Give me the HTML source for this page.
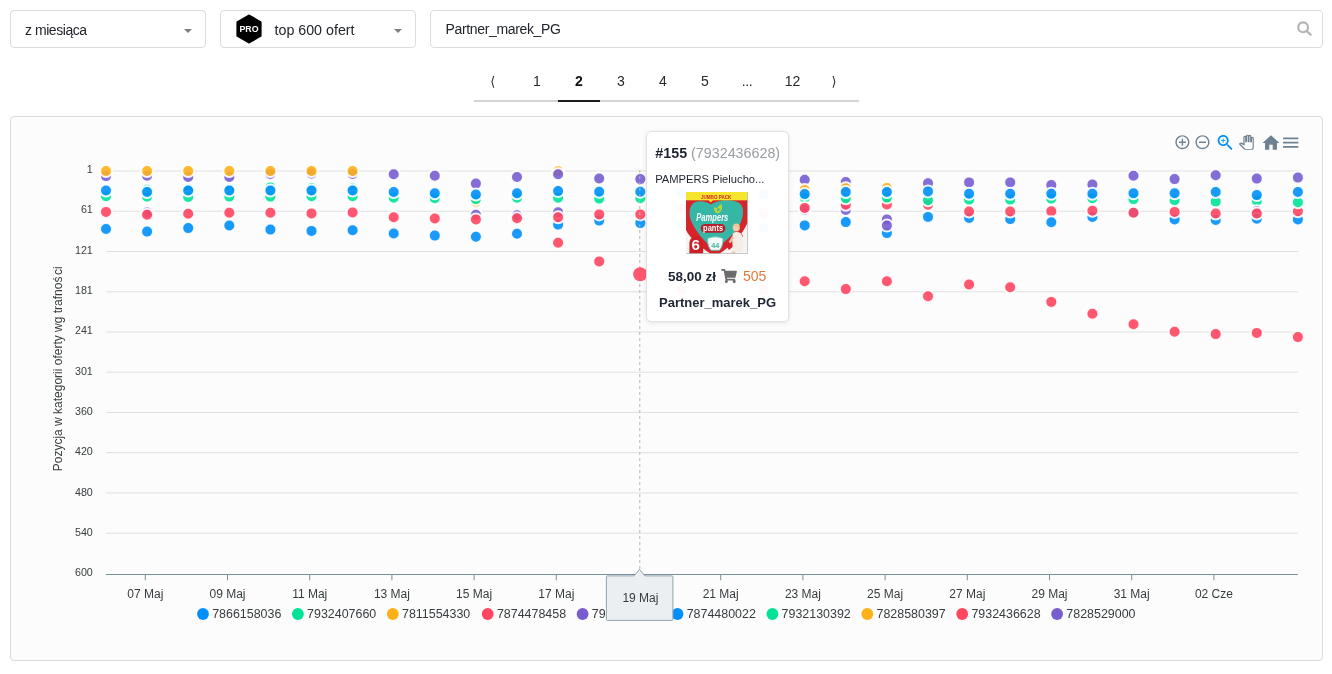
<!DOCTYPE html>
<html lang="pl">
<head>
<meta charset="utf-8">
<title>Partner_marek_PG</title>
<style>
html,body{margin:0;padding:0;background:#fff}
body{width:1332px;height:674px;position:relative;overflow:hidden;will-change:transform;font-family:"Liberation Sans",Arial,sans-serif;color:#1f2533}
.abs{position:absolute}
.box{position:absolute;top:10px;height:38px;box-sizing:border-box;border:1px solid #dcdcdd;border-radius:4px;background:#fff}
.box span{position:absolute;white-space:nowrap;line-height:1;color:#22252b}
.caret{position:absolute;top:17.5px;width:0;height:0;border-left:4px solid transparent;border-right:4px solid transparent;border-top:4px solid #7d7d7d}
.pg{position:absolute;top:73px;height:16px;line-height:16px;font-size:14px;color:#26282c;text-align:center;white-space:nowrap}
#panel{position:absolute;left:10px;top:116px;width:1313px;height:545px;box-sizing:border-box;border:1px solid #d9dadd;border-radius:4px;background:#fcfcfc}
#tip{position:absolute;left:646px;top:131px;width:143px;height:191px;box-sizing:border-box;border:1px solid #e2e2e3;border-radius:5px;background:rgba(255,255,255,0.965);box-shadow:0 1px 4px rgba(0,0,0,0.10)}
#tip span{position:absolute;white-space:nowrap;line-height:1}
</style>
</head>
<body>
<div class="box" style="left:10px;width:196px"><span id="t1" style="left:14px;top:12.150px;font-size:14px;letter-spacing:-0.45px">z miesiąca</span><i class="caret" style="left:173px"></i></div>
<div class="box" style="left:220px;width:196px">
<svg class="abs" style="left:14px;top:3px" width="28" height="30" viewBox="0 0 28 30"><path d="M14 1.8 L25.3 8.3 V21.7 L14 28.2 L2.7 21.7 V8.3 Z" fill="#000" stroke="#000" stroke-width="2.6" stroke-linejoin="round"/><text x="14" y="18.3" font-family="Liberation Sans, Arial, sans-serif" font-size="9" font-weight="bold" fill="#fff" text-anchor="middle" textLength="19.2" lengthAdjust="spacingAndGlyphs">PRO</text></svg>
<span id="t2" style="left:53.5px;top:11.9px;font-size:14.250px">top 600 ofert</span><i class="caret" style="left:173px"></i></div>
<div class="box" style="left:430px;width:893px"><span id="t3" style="left:14.5px;top:10.950px;font-size:14px;letter-spacing:-0.35px">Partner_marek_PG</span>
<svg class="abs" style="left:864px;top:9px" width="20" height="20" viewBox="0 0 20 20"><circle cx="8.1" cy="7.3" r="4.9" fill="none" stroke="#b3b3b3" stroke-width="2.1"/><line x1="11.7" y1="11.1" x2="15.7" y2="14.8" stroke="#b3b3b3" stroke-width="2.2" stroke-linecap="round"/></svg>
</div>

<div class="abs" style="left:474px;top:100px;width:385px;height:2px;background:#d4d4d5"></div>
<div class="abs" style="left:558px;top:100px;width:42px;height:2px;background:#1b1c1d"></div>
<div class="pg" style="left:474px;width:42px;font-family:'DejaVu Sans',sans-serif;font-size:13px"><span style="position:relative;left:-2.3px;top:0.8px">⟨</span></div>
<div class="pg" style="left:516px;width:42px">1</div>
<div class="pg" style="left:558px;width:42px;font-weight:bold;color:#111">2</div>
<div class="pg" style="left:600px;width:42px">3</div>
<div class="pg" style="left:642px;width:42px">4</div>
<div class="pg" style="left:684px;width:42px">5</div>
<div class="pg" style="left:726px;width:42px;letter-spacing:-0.4px">...</div>
<div class="pg" style="left:768px;width:49px">12</div>
<div class="pg" style="left:817px;width:42px;font-family:'DejaVu Sans',sans-serif;font-size:13px"><span style="position:relative;left:-3.9px;top:0.8px">⟩</span></div>

<div id="panel"></div>
<svg id="chart" width="1332" height="674" viewBox="0 0 1332 674" style="position:absolute;left:0;top:0" font-family="Liberation Sans, Arial, sans-serif">
<g stroke="#e0e0e0" stroke-width="1" shape-rendering="auto">
<line x1="106" y1="171.00" x2="1298" y2="171.00"/>
<line x1="106" y1="211.24" x2="1298" y2="211.24"/>
<line x1="106" y1="251.48" x2="1298" y2="251.48"/>
<line x1="106" y1="291.72" x2="1298" y2="291.72"/>
<line x1="106" y1="331.96" x2="1298" y2="331.96"/>
<line x1="106" y1="372.20" x2="1298" y2="372.20"/>
<line x1="106" y1="412.44" x2="1298" y2="412.44"/>
<line x1="106" y1="452.68" x2="1298" y2="452.68"/>
<line x1="106" y1="492.92" x2="1298" y2="492.92"/>
<line x1="106" y1="533.16" x2="1298" y2="533.16"/>
</g>
<line x1="106" y1="574.5" x2="1298" y2="574.5" stroke="#78909C" stroke-width="1"/>
<g stroke="#78909C" stroke-width="1">
<line x1="145.3" y1="574.5" x2="145.3" y2="580.3"/>
<line x1="227.5" y1="574.5" x2="227.5" y2="580.3"/>
<line x1="309.7" y1="574.5" x2="309.7" y2="580.3"/>
<line x1="391.9" y1="574.5" x2="391.9" y2="580.3"/>
<line x1="474.1" y1="574.5" x2="474.1" y2="580.3"/>
<line x1="556.3" y1="574.5" x2="556.3" y2="580.3"/>
<line x1="638.5" y1="574.5" x2="638.5" y2="580.3"/>
<line x1="720.7" y1="574.5" x2="720.7" y2="580.3"/>
<line x1="802.9" y1="574.5" x2="802.9" y2="580.3"/>
<line x1="885.1" y1="574.5" x2="885.1" y2="580.3"/>
<line x1="967.3" y1="574.5" x2="967.3" y2="580.3"/>
<line x1="1049.5" y1="574.5" x2="1049.5" y2="580.3"/>
<line x1="1131.7" y1="574.5" x2="1131.7" y2="580.3"/>
<line x1="1213.9" y1="574.5" x2="1213.9" y2="580.3"/>
</g>
<g font-size="10.7" fill="#373d3f" text-anchor="end">
<text x="92.8" y="173">1</text>
<text x="92.8" y="213">61</text>
<text x="92.8" y="254">121</text>
<text x="92.8" y="294">181</text>
<text x="92.8" y="334">241</text>
<text x="92.8" y="375">301</text>
<text x="92.8" y="415">360</text>
<text x="92.8" y="455">420</text>
<text x="92.8" y="496">480</text>
<text x="92.8" y="536">540</text>
<text x="92.8" y="576">600</text>
</g>
<g font-size="12" fill="#373d3f" text-anchor="middle">
<text x="145.3" y="598">07 Maj</text>
<text x="227.5" y="598">09 Maj</text>
<text x="309.7" y="598">11 Maj</text>
<text x="391.9" y="598">13 Maj</text>
<text x="474.1" y="598">15 Maj</text>
<text x="556.3" y="598">17 Maj</text>
<text x="638.5" y="598">19 Maj</text>
<text x="720.7" y="598">21 Maj</text>
<text x="802.9" y="598">23 Maj</text>
<text x="885.1" y="598">25 Maj</text>
<text x="967.3" y="598">27 Maj</text>
<text x="1049.5" y="598">29 Maj</text>
<text x="1131.7" y="598">31 Maj</text>
<text x="1213.9" y="598">02 Cze</text>
</g>
<text font-size="12" fill="#373d3f" text-anchor="middle" transform="translate(62.3 368.8) rotate(-90)">Pozycja w kategorii oferty wg trafnoś<tspan dx="1.6">ci</tspan></text>
<g stroke="#fff" stroke-width="2" fill-opacity="0.9" stroke-opacity="0.9">
<circle cx="106.0" cy="176.1" r="6" fill="#775DD0"/>
<circle cx="106.0" cy="171.0" r="6" fill="#FEB019"/>
<circle cx="106.0" cy="196.3" r="6" fill="#00E396"/>
<circle cx="106.0" cy="190.5" r="6" fill="#008FFB"/>
<circle cx="106.0" cy="211.9" r="6" fill="#FF4560"/>
<circle cx="106.0" cy="229.0" r="6" fill="#008FFB"/>
<circle cx="147.1" cy="175.8" r="6" fill="#775DD0"/>
<circle cx="147.1" cy="171.0" r="6" fill="#FEB019"/>
<circle cx="147.1" cy="189.8" r="6" fill="#00E396"/>
<circle cx="147.1" cy="196.6" r="6" fill="#00E396"/>
<circle cx="147.1" cy="192.0" r="6" fill="#008FFB"/>
<circle cx="147.1" cy="212.6" r="6" fill="#775DD0"/>
<circle cx="147.1" cy="214.7" r="6" fill="#FF4560"/>
<circle cx="147.1" cy="231.6" r="6" fill="#008FFB"/>
<circle cx="188.2" cy="177.0" r="6" fill="#775DD0"/>
<circle cx="188.2" cy="171.0" r="6" fill="#FEB019"/>
<circle cx="188.2" cy="188.9" r="6" fill="#00E396"/>
<circle cx="188.2" cy="196.9" r="6" fill="#00E396"/>
<circle cx="188.2" cy="190.5" r="6" fill="#008FFB"/>
<circle cx="188.2" cy="213.8" r="6" fill="#FF4560"/>
<circle cx="188.2" cy="228.1" r="6" fill="#008FFB"/>
<circle cx="229.3" cy="177.0" r="6" fill="#775DD0"/>
<circle cx="229.3" cy="171.0" r="6" fill="#FEB019"/>
<circle cx="229.3" cy="188.9" r="6" fill="#00E396"/>
<circle cx="229.3" cy="196.6" r="6" fill="#00E396"/>
<circle cx="229.3" cy="190.5" r="6" fill="#008FFB"/>
<circle cx="229.3" cy="212.8" r="6" fill="#FF4560"/>
<circle cx="229.3" cy="225.5" r="6" fill="#008FFB"/>
<circle cx="270.4" cy="173.9" r="6" fill="#775DD0"/>
<circle cx="270.4" cy="171.0" r="6" fill="#FEB019"/>
<circle cx="270.4" cy="187.4" r="6" fill="#00E396"/>
<circle cx="270.4" cy="196.6" r="6" fill="#00E396"/>
<circle cx="270.4" cy="190.5" r="6" fill="#008FFB"/>
<circle cx="270.4" cy="212.8" r="6" fill="#FF4560"/>
<circle cx="270.4" cy="229.6" r="6" fill="#008FFB"/>
<circle cx="311.5" cy="173.6" r="6" fill="#775DD0"/>
<circle cx="311.5" cy="171.0" r="6" fill="#FEB019"/>
<circle cx="311.5" cy="188.2" r="6" fill="#00E396"/>
<circle cx="311.5" cy="196.3" r="6" fill="#00E396"/>
<circle cx="311.5" cy="190.5" r="6" fill="#008FFB"/>
<circle cx="311.5" cy="213.4" r="6" fill="#FF4560"/>
<circle cx="311.5" cy="230.9" r="6" fill="#008FFB"/>
<circle cx="352.6" cy="173.9" r="6" fill="#775DD0"/>
<circle cx="352.6" cy="171.0" r="6" fill="#FEB019"/>
<circle cx="352.6" cy="188.6" r="6" fill="#00E396"/>
<circle cx="352.6" cy="196.3" r="6" fill="#00E396"/>
<circle cx="352.6" cy="190.5" r="6" fill="#008FFB"/>
<circle cx="352.6" cy="212.5" r="6" fill="#FF4560"/>
<circle cx="352.6" cy="230.2" r="6" fill="#008FFB"/>
<circle cx="393.7" cy="174.3" r="6" fill="#775DD0"/>
<circle cx="393.7" cy="197.8" r="6" fill="#00E396"/>
<circle cx="393.7" cy="192.0" r="6" fill="#008FFB"/>
<circle cx="393.7" cy="217.3" r="6" fill="#FF4560"/>
<circle cx="393.7" cy="233.5" r="6" fill="#008FFB"/>
<circle cx="434.8" cy="175.8" r="6" fill="#775DD0"/>
<circle cx="434.8" cy="198.2" r="6" fill="#00E396"/>
<circle cx="434.8" cy="193.2" r="6" fill="#008FFB"/>
<circle cx="434.8" cy="218.5" r="6" fill="#FF4560"/>
<circle cx="434.8" cy="235.6" r="6" fill="#008FFB"/>
<circle cx="475.9" cy="183.6" r="6" fill="#775DD0"/>
<circle cx="475.9" cy="201.6" r="6" fill="#FEB019"/>
<circle cx="475.9" cy="199.1" r="6" fill="#00E396"/>
<circle cx="475.9" cy="194.5" r="6" fill="#008FFB"/>
<circle cx="475.9" cy="214.8" r="6" fill="#775DD0"/>
<circle cx="475.9" cy="219.4" r="6" fill="#FF4560"/>
<circle cx="475.9" cy="236.8" r="6" fill="#008FFB"/>
<circle cx="517.0" cy="177.0" r="6" fill="#775DD0"/>
<circle cx="517.0" cy="197.8" r="6" fill="#00E396"/>
<circle cx="517.0" cy="193.2" r="6" fill="#008FFB"/>
<circle cx="517.0" cy="215.3" r="6" fill="#775DD0"/>
<circle cx="517.0" cy="218.2" r="6" fill="#FF4560"/>
<circle cx="517.0" cy="233.7" r="6" fill="#008FFB"/>
<circle cx="558.1" cy="171.2" r="6" fill="#FEB019"/>
<circle cx="558.1" cy="174.3" r="6" fill="#775DD0"/>
<circle cx="558.1" cy="197.8" r="6" fill="#00E396"/>
<circle cx="558.1" cy="191.1" r="6" fill="#008FFB"/>
<circle cx="558.1" cy="212.3" r="6" fill="#775DD0"/>
<circle cx="558.1" cy="224.6" r="6" fill="#008FFB"/>
<circle cx="558.1" cy="217.3" r="6" fill="#FF4560"/>
<circle cx="558.1" cy="242.8" r="6" fill="#FF4560"/>
<circle cx="599.2" cy="178.5" r="6" fill="#775DD0"/>
<circle cx="599.2" cy="198.6" r="6" fill="#00E396"/>
<circle cx="599.2" cy="191.7" r="6" fill="#008FFB"/>
<circle cx="599.2" cy="220.6" r="6" fill="#008FFB"/>
<circle cx="599.2" cy="214.4" r="6" fill="#FF4560"/>
<circle cx="599.2" cy="261.4" r="6" fill="#FF4560"/>
<circle cx="640.3" cy="179.1" r="6" fill="#775DD0"/>
<circle cx="640.3" cy="198.2" r="6" fill="#00E396"/>
<circle cx="640.3" cy="191.7" r="6" fill="#008FFB"/>
<circle cx="640.3" cy="223.1" r="6" fill="#008FFB"/>
<circle cx="640.3" cy="214.4" r="6" fill="#FF4560"/>
<circle cx="681.4" cy="193.6" r="6" fill="#008FFB"/>
<circle cx="681.4" cy="223.2" r="6" fill="#008FFB"/>
<circle cx="681.4" cy="208.6" r="6" fill="#FF4560"/>
<circle cx="681.4" cy="290.2" r="6" fill="#FF4560"/>
<circle cx="722.5" cy="199.2" r="6" fill="#00E396"/>
<circle cx="722.5" cy="196.2" r="6" fill="#008FFB"/>
<circle cx="722.5" cy="210.2" r="6" fill="#FF4560"/>
<circle cx="722.5" cy="224.2" r="6" fill="#008FFB"/>
<circle cx="722.5" cy="279.2" r="6" fill="#FF4560"/>
<circle cx="763.6" cy="194.6" r="6" fill="#008FFB"/>
<circle cx="763.6" cy="213.1" r="6" fill="#FF4560"/>
<circle cx="763.6" cy="227.8" r="6" fill="#008FFB"/>
<circle cx="763.6" cy="290.2" r="6" fill="#FF4560"/>
<circle cx="804.7" cy="179.8" r="6" fill="#775DD0"/>
<circle cx="804.7" cy="189.9" r="6" fill="#FEB019"/>
<circle cx="804.7" cy="197.8" r="6" fill="#00E396"/>
<circle cx="804.7" cy="194.1" r="6" fill="#008FFB"/>
<circle cx="804.7" cy="210.0" r="6" fill="#775DD0"/>
<circle cx="804.7" cy="207.9" r="6" fill="#FF4560"/>
<circle cx="804.7" cy="225.4" r="6" fill="#008FFB"/>
<circle cx="804.7" cy="281.2" r="6" fill="#FF4560"/>
<circle cx="845.8" cy="182.0" r="6" fill="#775DD0"/>
<circle cx="845.8" cy="188.3" r="6" fill="#FEB019"/>
<circle cx="845.8" cy="210.0" r="6" fill="#775DD0"/>
<circle cx="845.8" cy="204.8" r="6" fill="#FF4560"/>
<circle cx="845.8" cy="198.2" r="6" fill="#00E396"/>
<circle cx="845.8" cy="192.0" r="6" fill="#008FFB"/>
<circle cx="845.8" cy="222.1" r="6" fill="#008FFB"/>
<circle cx="845.8" cy="289.1" r="6" fill="#FF4560"/>
<circle cx="886.9" cy="188.0" r="6" fill="#FEB019"/>
<circle cx="886.9" cy="204.4" r="6" fill="#FF4560"/>
<circle cx="886.9" cy="197.6" r="6" fill="#00E396"/>
<circle cx="886.9" cy="192.0" r="6" fill="#008FFB"/>
<circle cx="886.9" cy="219.4" r="6" fill="#775DD0"/>
<circle cx="886.9" cy="233.1" r="6" fill="#008FFB"/>
<circle cx="886.9" cy="225.6" r="6" fill="#775DD0"/>
<circle cx="886.9" cy="281.2" r="6" fill="#FF4560"/>
<circle cx="928.0" cy="183.3" r="6" fill="#775DD0"/>
<circle cx="928.0" cy="204.8" r="6" fill="#FF4560"/>
<circle cx="928.0" cy="200.3" r="6" fill="#00E396"/>
<circle cx="928.0" cy="191.4" r="6" fill="#008FFB"/>
<circle cx="928.0" cy="216.9" r="6" fill="#008FFB"/>
<circle cx="928.0" cy="296.2" r="6" fill="#FF4560"/>
<circle cx="969.1" cy="182.4" r="6" fill="#775DD0"/>
<circle cx="969.1" cy="199.8" r="6" fill="#00E396"/>
<circle cx="969.1" cy="193.8" r="6" fill="#008FFB"/>
<circle cx="969.1" cy="217.9" r="6" fill="#008FFB"/>
<circle cx="969.1" cy="211.5" r="6" fill="#FF4560"/>
<circle cx="969.1" cy="284.5" r="6" fill="#FF4560"/>
<circle cx="1010.2" cy="182.4" r="6" fill="#775DD0"/>
<circle cx="1010.2" cy="199.8" r="6" fill="#00E396"/>
<circle cx="1010.2" cy="193.8" r="6" fill="#008FFB"/>
<circle cx="1010.2" cy="219.1" r="6" fill="#008FFB"/>
<circle cx="1010.2" cy="211.5" r="6" fill="#FF4560"/>
<circle cx="1010.2" cy="287.2" r="6" fill="#FF4560"/>
<circle cx="1051.3" cy="185.1" r="6" fill="#775DD0"/>
<circle cx="1051.3" cy="198.6" r="6" fill="#00E396"/>
<circle cx="1051.3" cy="193.8" r="6" fill="#008FFB"/>
<circle cx="1051.3" cy="211.3" r="6" fill="#FF4560"/>
<circle cx="1051.3" cy="222.3" r="6" fill="#008FFB"/>
<circle cx="1051.3" cy="301.9" r="6" fill="#FF4560"/>
<circle cx="1092.4" cy="184.5" r="6" fill="#775DD0"/>
<circle cx="1092.4" cy="198.2" r="6" fill="#00E396"/>
<circle cx="1092.4" cy="193.8" r="6" fill="#008FFB"/>
<circle cx="1092.4" cy="216.9" r="6" fill="#008FFB"/>
<circle cx="1092.4" cy="210.7" r="6" fill="#FF4560"/>
<circle cx="1092.4" cy="313.7" r="6" fill="#FF4560"/>
<circle cx="1133.5" cy="175.8" r="6" fill="#775DD0"/>
<circle cx="1133.5" cy="199.1" r="6" fill="#00E396"/>
<circle cx="1133.5" cy="193.2" r="6" fill="#008FFB"/>
<circle cx="1133.5" cy="212.8" r="6" fill="#008FFB"/>
<circle cx="1133.5" cy="212.8" r="6" fill="#FF4560"/>
<circle cx="1133.5" cy="324.2" r="6" fill="#FF4560"/>
<circle cx="1174.6" cy="179.1" r="6" fill="#775DD0"/>
<circle cx="1174.6" cy="200.3" r="6" fill="#00E396"/>
<circle cx="1174.6" cy="193.2" r="6" fill="#008FFB"/>
<circle cx="1174.6" cy="219.4" r="6" fill="#008FFB"/>
<circle cx="1174.6" cy="211.9" r="6" fill="#FF4560"/>
<circle cx="1174.6" cy="331.7" r="6" fill="#FF4560"/>
<circle cx="1215.7" cy="175.2" r="6" fill="#775DD0"/>
<circle cx="1215.7" cy="201.6" r="6" fill="#00E396"/>
<circle cx="1215.7" cy="192.0" r="6" fill="#008FFB"/>
<circle cx="1215.7" cy="220.0" r="6" fill="#008FFB"/>
<circle cx="1215.7" cy="213.5" r="6" fill="#FF4560"/>
<circle cx="1215.7" cy="334.1" r="6" fill="#FF4560"/>
<circle cx="1256.8" cy="178.6" r="6" fill="#775DD0"/>
<circle cx="1256.8" cy="200.7" r="6" fill="#00E396"/>
<circle cx="1256.8" cy="195.1" r="6" fill="#008FFB"/>
<circle cx="1256.8" cy="211.3" r="6" fill="#775DD0"/>
<circle cx="1256.8" cy="218.8" r="6" fill="#008FFB"/>
<circle cx="1256.8" cy="213.5" r="6" fill="#FF4560"/>
<circle cx="1256.8" cy="332.9" r="6" fill="#FF4560"/>
<circle cx="1297.9" cy="177.6" r="6" fill="#775DD0"/>
<circle cx="1297.9" cy="219.4" r="6" fill="#008FFB"/>
<circle cx="1297.9" cy="211.3" r="6" fill="#FF4560"/>
<circle cx="1297.9" cy="202.3" r="6" fill="#00E396"/>
<circle cx="1297.9" cy="192.0" r="6" fill="#008FFB"/>
<circle cx="1297.9" cy="337.1" r="6" fill="#FF4560"/>
</g>
<line x1="639.8" y1="170" x2="639.8" y2="574" stroke="#b6b6b6" stroke-width="1" stroke-dasharray="3 3"/>
<circle cx="640.2" cy="274.3" r="7" fill="#FF4560" fill-opacity="0.9"/>
<g font-size="12.450" fill="#373d3f">
<circle cx="203.0" cy="614.0" r="5.9" fill="#008FFB"/><text x="212.2" y="618">7866158036</text>
<circle cx="297.9" cy="614.0" r="5.9" fill="#00E396"/><text x="307.1" y="618">7932407660</text>
<circle cx="392.8" cy="614.0" r="5.9" fill="#FEB019"/><text x="402.0" y="618">7811554330</text>
<circle cx="487.7" cy="614.0" r="5.9" fill="#FF4560"/><text x="496.9" y="618">7874478458</text>
<circle cx="582.6" cy="614.0" r="5.9" fill="#775DD0"/><text x="591.8" y="618">7932130411</text>
<circle cx="677.5" cy="614.0" r="5.9" fill="#008FFB"/><text x="686.7" y="618">7874480022</text>
<circle cx="772.4" cy="614.0" r="5.9" fill="#00E396"/><text x="781.6" y="618">7932130392</text>
<circle cx="867.3" cy="614.0" r="5.9" fill="#FEB019"/><text x="876.5" y="618">7828580397</text>
<circle cx="962.2" cy="614.0" r="5.9" fill="#FF4560"/><text x="971.4" y="618">7932436628</text>
<circle cx="1057.1" cy="614.0" r="5.9" fill="#775DD0"/><text x="1066.3" y="618">7828529000</text>
</g>
<path d="M607.2 575.9 H634 L639.5 569.4 L645 575.9 H672.1 a0.8 0.8 0 0 1 0.8 0.8 V619.6 a0.8 0.8 0 0 1 -0.8 0.8 H607.2 a0.8 0.8 0 0 1 -0.8 -0.8 V576.7 a0.8 0.8 0 0 1 0.8 -0.8 Z" fill="#ECEFF1" stroke="#90A4AE" stroke-width="1"/>
<text x="640.4" y="602" font-size="12" fill="#373d3f" text-anchor="middle">19 Maj</text>
<g fill="#6E8192">
<g transform="translate(1174 133.8) scale(0.7)"><path d="M13 7h-2v4H7v2h4v4h2v-4h4v-2h-4V7zm-1-5C6.48 2 2 6.48 2 12s4.48 10 10 10 10-4.48 10-10S17.52 2 12 2zm0 18c-4.41 0-8-3.59-8-8s3.590-8 8-8 8 3.590 8 8-3.590 8-8 8z"/></g>
<g transform="translate(1194.1 133.8) scale(0.7)"><path d="M7 11v2h10v-2H7zm5-9C6.48 2 2 6.48 2 12s4.48 10 10 10 10-4.48 10-10S17.52 2 12 2zm0 18c-4.41 0-8-3.59-8-8s3.590-8 8-8 8 3.590 8 8-3.590 8-8 8z"/></g>
<g transform="translate(1215.1 132.5) scale(0.85)" fill="#008FFB"><path d="M15.5 14h-.79l-.28-.27C15.41 12.59 16 11.11 16 9.5 16 5.91 13.09 3 9.5 3S3 5.91 3 9.5 5.91 16 9.5 16c1.61 0 3.09-.59 4.230-1.570l.27.28v.79l5 4.990L20.490 19l-4.990-5zm-6 0C7.010 14 5 11.990 5 9.5S7.010 5 9.5 5 14 7.010 14 9.5 11.990 14 9.5 14z"/><path d="M12 10h-2v2H9v-2H7V9h2V7h1v2h2v1z"/></g>
<svg x="1239" y="134.8" width="14.88" height="14.88" viewBox="0 0 24 24" fill="#fff" stroke="#6E8192" stroke-width="2"><path d="M23 5.5V20c0 2.2-1.8 4-4 4h-7.3c-1.080 0-2.1-.43-2.850-1.190L1 14.830s1.260-1.230 1.3-1.250c.22-.19.490-.29.790-.29.220 0 .42.060.6.160.04.010 4.310 2.460 4.310 2.460V4c0-.83.670-1.5 1.5-1.5S11 3.170 11 4v7h1V1.5c0-.83.670-1.5 1.5-1.5S15 .67 15 1.5V11h1V2.5c0-.83.670-1.5 1.5-1.5s1.5.67 1.5 1.5V11h1V5.5c0-.83.670-1.5 1.5-1.5s1.5.67 1.5 1.5z"/></svg>
<g transform="translate(1260.8 132.75) scale(0.85)"><path d="M10 20v-6h4v6h5v-8h3L12 3 2 12h3v8z"/></g>
<g transform="translate(1280.5 132.35) scale(0.85)"><path d="M3 18h18v-2H3v2zm0-5h18v-2H3v2zm0-7v2h18V6H3z"/></g>
</g>
</svg>
<div id="tip">
<span id="tt1" style="left:8.3px;top:14px;font-size:14.3px;color:#1f2533"><b>#155</b> <span style="position:static;color:#999da3">(7932436628)</span></span>
<span id="tt2" style="left:8.2px;top:41.9px;font-size:11.2px;color:#1f2533">PAMPERS Pielucho...</span>
<svg width="62" height="62" viewBox="0 0 62 62" style="position:absolute;left:39px;top:60px" font-family="Liberation Sans, Arial, sans-serif">
<rect x="0" y="0" width="62" height="62" fill="#f6f4f1"/>
<path d="M0 8 H62 V31 C57 43 45 55 29.5 65 C17 57 4 47 0 38 Z" fill="#d6242c"/>
<path d="M24.7 12.6 C21 9 12 8 7.5 11 C2.5 15 2.4 24 6 31 C11 41 19 50 28 57.5 C39 50 50 41 54.5 31 C58 23 58.5 14 52.5 10.5 C44 6.5 31 8 24.7 12.6 Z" fill="#36b7a5"/>
<rect x="0" y="0" width="62" height="8.3" fill="#f5e52d"/>
<path d="M22.5 8 L24.8 10.6 L27.2 8 Z" fill="#f5e52d"/>
<text x="30.2" y="6.7" font-size="4.8" font-weight="bold" fill="#d6242c" text-anchor="middle" textLength="30.5" lengthAdjust="spacingAndGlyphs">JUMBO PACK</text>
<path d="M31.5 21.5 c-3.2 -1.6 -4.3 -4.6 -2.6 -6.8 c1.2 1.7 2.3 2 3.2 0.3 c0.7 -1.5 1.8 -2.6 3.5 -2.8 c1.3 4.2 -0.5 8.3 -4.1 9.3 Z" fill="#b8d63a"/>
<path d="M31.6 19.5 c-1 -1.3 -0.8 -2.5 0 -3.3 c0.7 0.9 1.3 0.7 2 -0.5 c0.4 1.9 -0.5 3.3 -2 3.8 Z" fill="#36b7a5"/>
<text x="26.3" y="29.4" font-size="11" font-weight="bold" font-style="italic" fill="#fff" text-anchor="middle" textLength="32" lengthAdjust="spacingAndGlyphs">Pampers</text>
<rect x="14.8" y="31.9" width="24.5" height="8.8" rx="4.2" fill="#b3202a"/>
<text x="27.1" y="38.6" font-size="8.4" font-weight="bold" fill="#fff" text-anchor="middle" textLength="20" lengthAdjust="spacingAndGlyphs">pants</text>
<path d="M0 44 C6 50 14 56 22 62 H0 Z" fill="#f6f4f1"/>
<path d="M3.4 62 V51.5 C3.4 46.5 7 44.2 10.3 44.2 C13.6 44.2 17.2 46.5 17.2 51.5 V62 Z" fill="#cf2028"/>
<text x="9.7" y="58.4" font-size="15" font-weight="bold" fill="#fff" text-anchor="middle">6</text>
<path d="M62 30 V62 H33 C44 55 56 44 62 30 Z" fill="#f6f4f1"/>
<path d="M41 55 C46 51 51 46 55 41 L57 44 C53 49 48 54 43 58 Z" fill="#d6242c"/>
<path d="M21.5 46.5 C26 44.3 32.5 44.3 37 46.5 C37.3 52 35.5 56 33.5 58.3 H25 C23 56 21.2 52 21.5 46.5 Z" fill="#f4faf8" stroke="#5fc2b3" stroke-width="0.9"/>
<text x="29.3" y="56.3" font-size="7.3" font-weight="bold" fill="#45b3a3" text-anchor="middle">44</text>
<ellipse cx="50.3" cy="35.5" rx="3.6" ry="3.9" fill="#e9c990"/>
<ellipse cx="49.6" cy="36.6" rx="2.3" ry="2.5" fill="#f0cdb0"/>
<path d="M47 41.5 C49 39.5 54 39.5 55.5 42.5 C57.5 47 57.5 54 56.5 59.5 L47.5 60 C46.5 54 45.5 47 47 41.5 Z" fill="#f3ede6"/>
<path d="M46.5 43.5 l-3.8 6.5 l1.8 1.2 l3.6 -5.2 Z" fill="#eac6a6"/>
<path d="M47.5 59 l-3 2.5 h6 Z" fill="#eac6a6"/>
<path d="M61.5 0 V61.5 H0" fill="none" stroke="#bdbdbd" stroke-width="1" stroke-opacity="0.8"/>
</svg>
<span id="tt3" style="left:21px;top:137.6px;font-size:13.5px;font-weight:bold;color:#1f2533">58,00 zł</span>
<svg width="16" height="14" viewBox="0 0 576 512" style="position:absolute;left:73.6px;top:136.6px"><path fill="#6b6b6b" d="M528.12 301.319l47.273-208C578.806 78.301 567.391 64 551.990 64H159.208l-9.166-44.810C147.758 8.021 137.930 0 126.529 0H24C10.745 0 0 10.745 0 24v16c0 13.255 10.745 24 24 24h69.883l70.248 343.435C147.325 417.1 136 435.222 136 456c0 30.928 25.072 56 56 56s56-25.072 56-56c0-15.674-6.447-29.835-16.824-40h209.647C430.447 426.165 424 440.326 424 456c0 30.928 25.072 56 56 56s56-25.072 56-56c0-22.172-12.888-41.332-31.579-50.405l5.517-24.276c3.413-15.018-8.002-29.319-23.403-29.319H218.117l-6.545-32h293.145c11.206 0 20.920-7.754 23.403-18.681z"/></svg>
<span id="tt4" style="left:96px;top:137.4px;font-size:14px;color:#e07b39">505</span>
<span id="tt5" style="left:12px;top:163.7px;font-size:13px;font-weight:bold;color:#1f2533">Partner_marek_PG</span>
</div>
</body>
</html>
